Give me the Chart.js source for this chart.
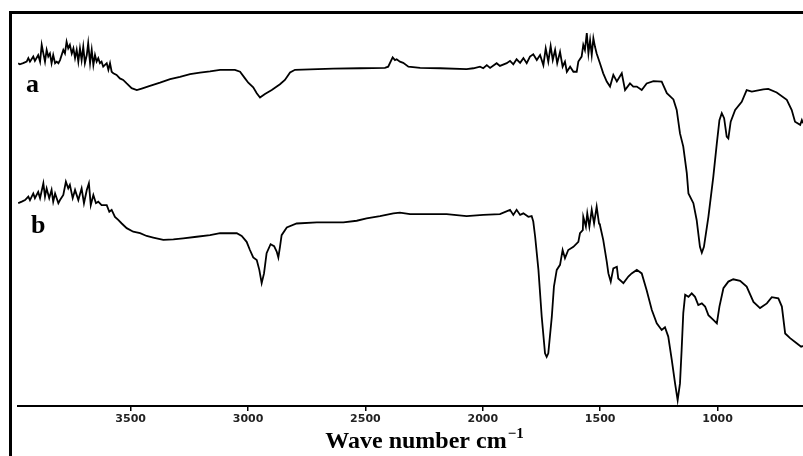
<!DOCTYPE html>
<html><head><meta charset="utf-8">
<script src="https://cdn.jsdelivr.net/npm/chart.js@4.4.1/dist/chart.umd.min.js"></script>
<style>html,body{margin:0;padding:0;background:#fff;} canvas{display:block;}</style>
</head><body>
<canvas id="c" width="803" height="456"></canvas>
<script>
const seriesNames = ['a', 'b'];
const tickValues = [3500, 3000, 2500, 2000, 1500, 1000];
const axisTitle = 'Wave number cm';
const axisTitleSup = '\u22121';

const wnA = [3979,3972,3958,3943,3936,3929,3915,3908,3894,3886,
3879,3872,3865,3858,3851,3844,3837,3830,3822,3815,
3808,3801,3787,3780,3773,3766,3759,3751,3744,3737,
3730,3723,3716,3709,3702,3695,3687,3681,3673,3666,
3659,3652,3645,3638,3631,3624,3617,3602,3595,3588,
3581,3574,3560,3546,3532,3517,3496,3474,3453,3418,
3375,3332,3290,3247,3205,3162,3119,3056,3034,3013,
2999,2978,2963,2949,2928,2899,2864,2843,2821,2800,
2736,2637,2523,2417,2403,2384,2374,2367,2353,2339,
2317,2267,2182,2069,2040,2012,1998,1983,1969,1941,
1927,1898,1884,1870,1856,1841,1827,1813,1799,1785,
1770,1756,1742,1732,1721,1711,1702,1692,1683,1671,
1660,1650,1642,1628,1614,1600,1593,1579,1572,1565,
1557,1550,1543,1536,1529,1522,1515,1501,1487,1472,
1458,1444,1429,1408,1394,1373,1359,1344,1323,1302,
1273,1238,1216,1188,1174,1160,1146,1131,1124,1103,
1089,1075,1067,1058,1039,1018,1003,992,982,972,
961,954,944,925,897,876,854,805,784,748,
705,684,670,648,641,636];
const tA = [87.9,87.6,87.9,88.3,89.2,88.3,89.6,88.5,90.0,88.3,
92.6,90.4,88.3,91.3,89.6,90.4,87.9,90.0,87.9,88.3,
87.9,88.7,91.3,90.4,93.4,91.7,92.6,90.4,91.7,89.2,
91.3,88.3,91.7,88.7,92.1,87.9,90.0,93.0,87.9,91.3,
87.4,90.0,88.3,89.2,87.9,88.3,87.0,87.9,86.2,87.9,
85.7,85.3,84.9,84.0,83.6,82.7,81.5,81.0,81.4,82.1,
82.9,83.8,84.4,85.1,85.5,85.8,86.2,86.2,85.7,84.0,
82.9,81.7,80.2,79.1,80.0,81.0,82.5,83.6,85.5,86.2,
86.3,86.5,86.6,86.7,87.0,89.4,88.7,88.9,88.3,88.0,
87.0,86.7,86.6,86.4,86.6,87.0,86.6,87.4,86.7,87.9,
87.2,87.9,88.5,87.6,88.9,88.0,89.2,87.9,89.6,90.2,
88.7,90.0,87.4,91.7,88.3,92.3,88.7,91.3,87.9,90.8,
87.0,88.3,85.7,87.0,85.7,85.7,88.3,89.6,92.6,91.3,
95.6,90.4,93.8,90.0,94.3,92.1,90.4,87.9,85.3,83.2,
81.9,84.9,83.2,85.3,81.0,82.7,81.9,81.9,81.0,82.7,
83.3,83.2,80.2,78.6,75.9,69.9,66.5,59.7,54.5,52.0,
47.7,40.8,39.3,40.8,48.5,58.8,67.4,73.3,75.1,73.8,
69.1,68.6,72.9,75.9,78.0,81.0,80.6,81.2,81.3,80.4,
78.5,75.9,72.9,72.1,73.3,72.5];

const wnB = [3979,3964,3950,3936,3929,3915,3908,3894,3886,3872,
3865,3858,3847,3837,3830,3822,3808,3801,3787,3776,
3766,3759,3747,3737,3723,3709,3699,3687,3678,3670,
3659,3648,3638,3624,3602,3591,3581,3567,3553,3538,
3517,3489,3460,3432,3404,3361,3318,3276,3219,3162,
3119,3048,3027,3006,2992,2978,2963,2952,2942,2932,
2921,2904,2889,2878,2871,2864,2857,2835,2793,2707,
2594,2537,2495,2438,2381,2353,2310,2154,2069,1998,
1927,1884,1870,1856,1841,1827,1806,1792,1785,1777,
1763,1749,1735,1728,1721,1706,1697,1685,1671,1660,
1650,1636,1614,1593,1586,1574,1572,1561,1555,1546,
1536,1526,1515,1505,1501,1487,1472,1465,1455,1444,
1429,1423,1401,1380,1366,1344,1323,1302,1280,1259,
1238,1224,1210,1195,1181,1170,1160,1153,1146,1138,
1124,1110,1096,1082,1067,1053,1039,1018,1003,992,
975,954,933,904,876,847,819,790,769,741,
726,712,691,663,644,636];
const tB = [52.0,52.4,52.8,53.7,52.8,54.5,53.3,54.9,53.3,57.1,
53.7,55.8,53.3,55.4,52.4,54.5,52.0,52.8,54.1,57.5,
55.8,56.7,53.3,55.4,52.8,55.8,52.0,55.4,57.1,51.5,
54.1,52.0,52.4,51.5,51.5,49.8,50.3,48.5,47.7,46.8,
45.6,44.7,44.3,43.6,43.2,42.6,42.7,43.0,43.4,43.8,
44.3,44.3,43.6,42.1,40.0,38.1,37.4,34.9,31.5,34.0,
39.2,41.5,41.0,39.6,38.1,40.8,43.8,45.8,46.8,47.1,
47.1,47.5,48.1,48.7,49.4,49.6,49.2,49.2,48.7,49.0,
49.2,50.3,49.0,50.3,49.0,49.4,48.5,48.7,47.3,43.4,
34.9,22.9,13.5,12.6,13.5,22.9,30.6,34.9,36.2,40.0,
37.9,40.0,40.8,42.1,44.3,45.1,48.5,46.0,49.4,46.0,
50.3,46.8,51.1,46.8,46.4,42.6,37.0,34.0,31.9,35.3,
35.7,32.7,31.5,33.2,34.0,34.9,34.0,29.7,24.6,21.2,
19.5,20.2,17.8,11.8,5.8,1.5,5.8,14.4,23.8,28.5,
28.0,28.9,28.0,25.9,26.3,25.5,23.3,22.1,21.2,25.5,
30.2,31.9,32.5,32.1,30.6,26.7,25.1,26.3,27.9,27.6,
25.5,18.6,17.4,16.1,15.2,15.4];

const toPts = (xs, ys) => xs.map((x, i) => ({ x: x, y: ys[i] }));

const decor = {
  id: 'decor',
  beforeDraw(chart) {
    const ctx = chart.ctx;
    ctx.save();
    ctx.fillStyle = '#fff';
    ctx.fillRect(0, 0, chart.width, chart.height);
    ctx.fillStyle = '#000';
    ctx.fillRect(9, 11, chart.width - 9, 3);
    ctx.fillRect(9, 11, 3, chart.height - 11);
    ctx.restore();
  },
  afterDraw(chart) {
    const ctx = chart.ctx;
    ctx.save();
    ctx.fillStyle = '#000';
    ctx.textBaseline = 'alphabetic';
    ctx.textAlign = 'left';
    ctx.font = 'bold 26px "Liberation Serif"';
    ctx.fillText(seriesNames[0], 26, 92);
    ctx.fillText(seriesNames[1], 31, 233);
    ctx.font = 'bold 24px "Liberation Serif"';
    const w1 = ctx.measureText(axisTitle).width;
    ctx.font = 'bold 15px "Liberation Serif"';
    const w2 = ctx.measureText(axisTitleSup).width;
    const x0 = 424.5 - (w1 + 1 + w2) / 2;
    ctx.font = 'bold 24px "Liberation Serif"';
    ctx.fillText(axisTitle, x0, 448);
    ctx.font = 'bold 15px "Liberation Serif"';
    ctx.fillText(axisTitleSup, x0 + w1 + 1, 438);
    ctx.restore();
  }
};

new Chart(document.getElementById('c'), {
  type: 'line',
  data: {
    datasets: [
      { label: seriesNames[0], data: toPts(wnA, tA), borderColor: '#000', borderWidth: 1.8, pointRadius: 0, tension: 0, fill: false },
      { label: seriesNames[1], data: toPts(wnB, tB), borderColor: '#000', borderWidth: 1.8, pointRadius: 0, tension: 0, fill: false }
    ]
  },
  options: {
    responsive: false,
    animation: false,
    devicePixelRatio: 1,
    layout: { padding: { left: 18, right: 0, top: 16, bottom: 0 } },
    plugins: { legend: { display: false }, tooltip: { enabled: false } },
    scales: {
      x: {
        type: 'linear', reverse: true, min: 636, max: 3980,
        afterBuildTicks: s => { s.ticks = tickValues.map(v => ({ value: v })); },
        afterFit: s => { s.height = 50; },
        grid: { drawOnChartArea: false, drawTicks: true, tickLength: 5, color: '#000', lineWidth: 1.5 },
        border: { display: true, color: '#000', width: 2 },
        ticks: {
          font: { family: 'DejaVu Sans', size: 11, weight: 'bold' }, color: '#222', padding: 2,
          maxRotation: 0, autoSkip: false,
          callback: v => String(v)
        }
      },
      y: { display: false, min: 0, max: 100 }
    }
  },
  plugins: [decor]
});
</script>
</body></html>
